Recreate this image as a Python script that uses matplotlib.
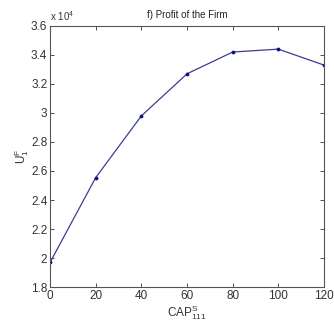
import matplotlib
matplotlib.use('Agg')
import matplotlib.pyplot as plt
from matplotlib.ticker import FuncFormatter

plt.rcParams['font.family'] = ['Liberation Sans', 'DejaVu Sans']
plt.rcParams['mathtext.fontset'] = 'custom'
plt.rcParams['mathtext.rm'] = 'Liberation Sans'
plt.rcParams['mathtext.it'] = 'Liberation Sans'

cap = [0, 20, 40, 60, 80, 100, 120]
profit = [19700, 25550, 29800, 32700, 34200, 34400, 33300]

x_ticks = [0, 20, 40, 60, 80, 100, 120]
y_ticks = [18000, 20000, 22000, 24000, 26000, 28000, 30000, 32000, 34000, 36000]


def scaled(value, _):
    return '%g' % (value / 1e4)


figure = plt.figure(figsize=(3.34, 3.24), dpi=100, facecolor='white')
axes = figure.add_axes([0.15, 0.114, 0.82, 0.806])

axes.plot(cap, profit, color='#3c3c96', linewidth=0.9,
          marker='.', markersize=3.5, markerfacecolor='#10108a', markeredgecolor='#10108a')

axes.set_xlim(0, 120)
axes.set_ylim(18000, 36000)
axes.set_xticks(x_ticks)
axes.set_yticks(y_ticks)
axes.yaxis.set_major_formatter(FuncFormatter(scaled))

axes.tick_params(direction='in', top=True, right=True, length=3, width=0.6,
                 labelsize=8.5, colors='#333333', pad=2)
for spine in axes.spines.values():
    spine.set_color('#555555')
    spine.set_linewidth(0.8)

axes.text(0.0, 1.01, r'x 10$^{4}$', transform=axes.transAxes, fontsize=7,
          ha='left', va='bottom', color='#333333')
axes.set_title('f) Profit of the Firm', fontsize=7, color='#222222', pad=6)
axes.set_xlabel(r'CAP$^{\mathrm{S}}_{\mathrm{111}}$', fontsize=8.5, color='#333333', labelpad=1)
axes.set_ylabel(r'U$^{\mathrm{F}}_{\mathrm{1}}$', fontsize=8.5, color='#333333', labelpad=0)

figure.savefig('out.png', dpi=100, facecolor='white')
plt.close()
